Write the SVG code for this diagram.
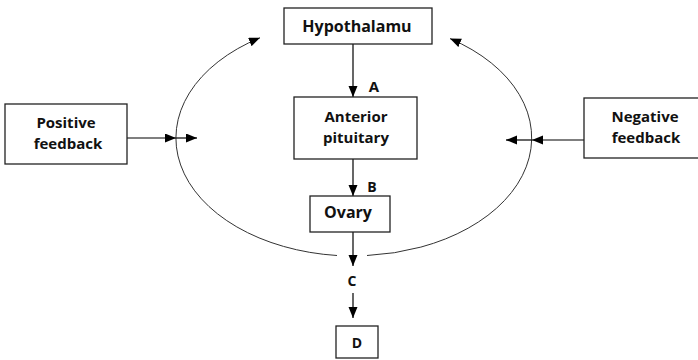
<svg xmlns="http://www.w3.org/2000/svg" width="698" height="360" viewBox="0 0 698 360">
<defs>
<marker id="ah" markerUnits="userSpaceOnUse" markerWidth="12" markerHeight="10" refX="11" refY="4.5" orient="auto">
<path d="M0,0 L11,4.5 L0,9 Z" fill="#000"/>
</marker>
<style>
.box{fill:#fff;stroke:#222;stroke-width:1.3}
.t{font-family:"Open Sans","Liberation Sans",sans-serif;font-weight:700;font-size:16px;fill:#111;text-anchor:middle}
.t2{font-family:"Open Sans","Liberation Sans",sans-serif;font-weight:700;font-size:15px;fill:#111;text-anchor:middle}
.l{font-family:"Open Sans","Liberation Sans",sans-serif;font-weight:700;font-size:14px;fill:#111;text-anchor:middle}
.c{fill:none;stroke:#000;stroke-width:1.2;marker-end:url(#ah)}
.arc{fill:none;stroke:#333;stroke-width:1;marker-end:url(#ah)}
</style>
</defs>
<rect width="698" height="360" fill="#fff"/>
<g id="connectors">
<path class="arc" d="M337,255.5 A178,118 0 0 1 260,37.8"/>
<path class="arc" d="M367,255.5 A178,118 0 0 0 450,38.6"/>
<line class="c" x1="353" y1="44" x2="353" y2="97"/>
<line class="c" x1="353" y1="159" x2="353" y2="196"/>
<line class="c" x1="353" y1="232" x2="353" y2="266"/>
<line class="c" x1="353" y1="293" x2="353" y2="318"/>
<line class="c" x1="127" y1="138" x2="176" y2="138"/>
<line class="c" x1="176" y1="138" x2="197" y2="138"/>
<line class="c" x1="584" y1="140" x2="532" y2="140"/>
<line class="c" x1="532" y1="140" x2="506" y2="140"/>
<text class="l" x="374" y="92" style="font-size:15px">A</text>
<text class="l" x="372" y="192">B</text>
<text class="l" x="352" y="286">C</text>
</g>
<g id="hypothalamu">
<rect class="box" x="284" y="8" width="148" height="36"/>
<text class="t" x="357" y="32">Hypothalamu</text>
</g>
<g id="anterior-pituitary">
<rect class="box" x="294" y="97" width="123" height="62"/>
<text class="t2" x="356" y="122">Anterior</text>
<text class="t2" x="356" y="143">pituitary</text>
</g>
<g id="ovary">
<rect class="box" x="310" y="196" width="80" height="36"/>
<text class="t" x="348" y="218">Ovary</text>
</g>
<g id="positive-feedback">
<rect class="box" x="5" y="104" width="122" height="60"/>
<text class="t2" x="66" y="128">Positive</text>
<text class="t2" x="68" y="149">feedback</text>
</g>
<g id="negative-feedback">
<rect class="box" x="584" y="98" width="120" height="60"/>
<text class="t2" x="645" y="122">Negative</text>
<text class="t2" x="646" y="143">feedback</text>
</g>
<g id="d">
<rect class="box" x="336" y="326" width="42" height="32"/>
<text class="l" x="357" y="348">D</text>
</g>
</svg>
